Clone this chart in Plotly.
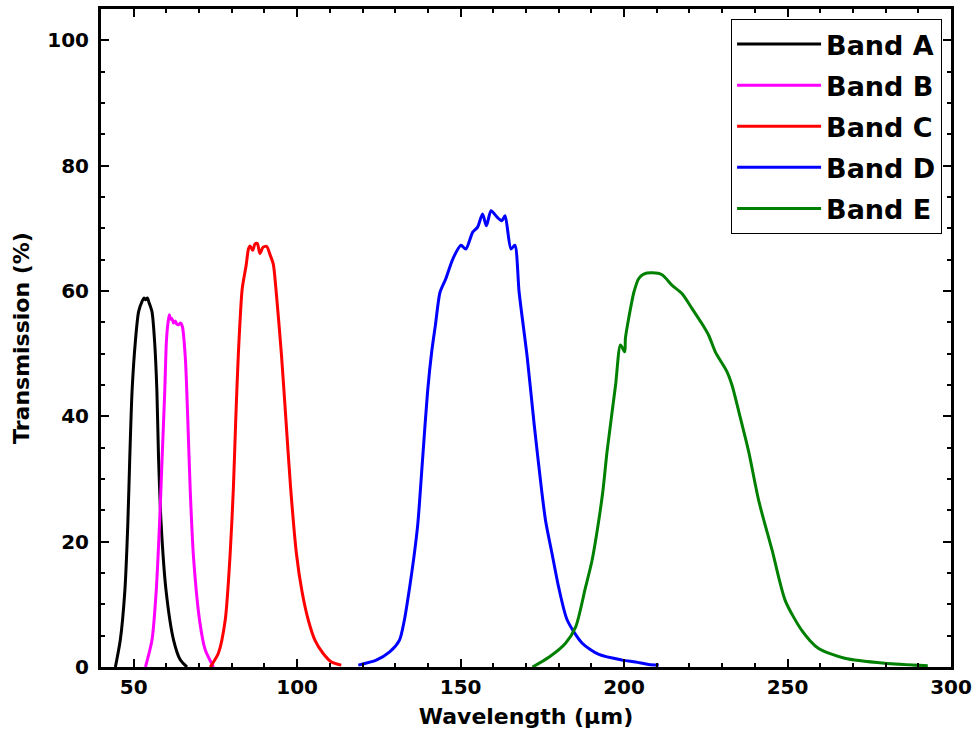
import plotly.graph_objects as go

# ---- Data ----
band_a_x = [44.4, 45.9, 47.3, 48.2, 48.8, 49.5, 50.5, 51.5, 52.6, 53.2, 53.6, 54.2, 54.6, 55.6, 56.4, 57.1, 57.6, 58.4, 59.9, 62.2, 64.2, 66.3]
band_a_y = [0.0, 4.3, 12.2, 22.8, 33.4, 44.0, 51.9, 56.7, 58.4, 58.9, 58.6, 58.9, 58.3, 56.7, 51.9, 44.0, 33.4, 22.8, 12.2, 4.3, 1.2, 0.0]

band_b_x = [53.6, 55.6, 56.9, 57.9, 58.7, 59.5, 60.0, 60.5, 60.9, 61.3, 61.7, 62.2, 62.7, 63.2, 63.7, 64.3, 64.9, 65.8, 66.6, 67.3, 68.3, 70.3, 71.9, 74.4]
band_b_y = [0.0, 4.3, 12.2, 22.8, 33.4, 44.0, 51.9, 55.0, 56.2, 55.5, 55.6, 54.9, 55.2, 54.7, 54.6, 54.9, 54.3, 49.3, 38.7, 28.1, 17.5, 6.9, 2.7, 0.0]

band_c_x = [73.4, 75.9, 78.0, 79.5, 80.5, 81.2, 82.0, 83.2, 84.4, 85.1, 85.6, 86.4, 87.1, 87.8, 88.6, 89.6, 90.7, 91.7, 92.7, 93.5, 95.2, 96.6, 98.0, 99.8, 101.5, 103.4, 105.5, 107.9, 110.5, 113.5]
band_c_y = [0.0, 2.2, 7.5, 18.0, 28.6, 39.2, 49.8, 60.4, 64.1, 66.7, 67.2, 66.5, 67.5, 67.6, 66.0, 67.0, 67.1, 65.8, 64.3, 60.4, 49.8, 39.2, 28.6, 18.0, 12.0, 7.5, 4.2, 2.2, 0.8, 0.3]

band_d_x = [118.7, 124.2, 128.3, 131.3, 132.8, 134.4, 135.7, 136.9, 138.4, 139.9, 141.2, 142.3, 143.7, 145.5, 147.6, 150.1, 151.6, 153.7, 155.2, 156.7, 157.9, 159.3, 161.3, 162.6, 163.6, 165.4, 166.6, 167.9, 170.4, 172.5, 174.8, 176.0, 178.0, 180.0, 182.6, 187.2, 192.3, 199.4, 203.5, 207.5, 210.6]
band_d_y = [0.3, 1.1, 2.4, 4.3, 7.5, 12.7, 17.5, 22.8, 33.4, 44.0, 50.5, 54.6, 59.8, 62.0, 65.1, 67.3, 66.7, 69.4, 70.2, 72.3, 70.4, 72.8, 71.7, 71.2, 72.0, 66.7, 67.3, 59.8, 49.3, 38.7, 28.1, 23.3, 18.0, 12.7, 7.5, 3.8, 2.0, 1.1, 0.8, 0.4, 0.3]

band_e_x = [172.0, 177.1, 182.1, 185.2, 188.2, 190.2, 192.0, 193.5, 194.8, 197.4, 198.9, 200.2, 200.4, 201.4, 203.0, 204.5, 206.0, 208.6, 211.6, 214.7, 217.7, 220.8, 223.8, 225.9, 227.9, 231.5, 233.0, 235.6, 238.1, 241.2, 245.3, 249.3, 254.3, 259.4, 267.5, 279.7, 292.9]
band_e_y = [0.0, 1.6, 3.8, 6.4, 12.7, 17.0, 22.5, 28.0, 34.4, 45.0, 51.4, 50.3, 52.4, 55.6, 59.8, 62.0, 62.7, 62.9, 62.6, 60.9, 59.6, 57.2, 54.8, 52.9, 50.3, 47.1, 45.0, 39.7, 34.4, 26.5, 18.6, 10.6, 5.9, 3.0, 1.4, 0.6, 0.2]

series_names = ["Band A", "Band B", "Band C", "Band D", "Band E"]
series_colors = ["#000000", "#ff00ff", "#ff0000", "#0000ff", "#008000"]
series_x = [band_a_x, band_b_x, band_c_x, band_d_x, band_e_x]
series_y = [band_a_y, band_b_y, band_c_y, band_d_y, band_e_y]

x_tick_vals = [50, 100, 150, 200, 250, 300]
y_tick_vals = [0, 20, 40, 60, 80, 100]

FONT = "DejaVu Sans"

fig = go.Figure()
for name, color, xs, ys in zip(series_names, series_colors, series_x, series_y):
    fig.add_trace(go.Scatter(
        x=xs, y=ys, mode="lines", name=name, legendgroup=name,
        line=dict(color=color, width=3, shape="spline", smoothing=0.7),
    ))

axis_common = dict(
    showgrid=False, zeroline=False,
    showline=True, linecolor="black", linewidth=3, mirror="allticks",
    ticks="inside", ticklen=8, tickwidth=2, tickcolor="black",
    tickfont=dict(family=FONT, size=20, color="black", weight="bold"),
)

fig.update_xaxes(
    range=[40, 300], tickvals=x_tick_vals,
    minor=dict(dtick=10, tick0=0, ticks="inside", ticklen=4, tickwidth=2, tickcolor="black"),
    title=dict(text="Wavelength (μm)", font=dict(family=FONT, size=22, color="black", weight="bold"), standoff=11),
    **axis_common,
)
fig.update_yaxes(
    range=[0, 105], tickvals=y_tick_vals, ticklabelstandoff=5,
    minor=dict(dtick=5, tick0=0, ticks="inside", ticklen=4, tickwidth=2, tickcolor="black"),
    title=dict(text="Transmission (%)", font=dict(family=FONT, size=22, color="black", weight="bold"), standoff=12),
    **axis_common,
)

fig.update_layout(
    width=978, height=731,
    margin=dict(l=101, r=23, t=6, b=64),
    plot_bgcolor="white", paper_bgcolor="white",
    legend=dict(
        x=0.9895, y=0.9848, xanchor="right", yanchor="top",
        bordercolor="black", borderwidth=1, bgcolor="white",
        font=dict(family=FONT, size=27, color="black", weight="bold"),
        itemwidth=84, tracegroupgap=3, traceorder="grouped",
    ),
    showlegend=True,
)

fig.write_html("out.html")
